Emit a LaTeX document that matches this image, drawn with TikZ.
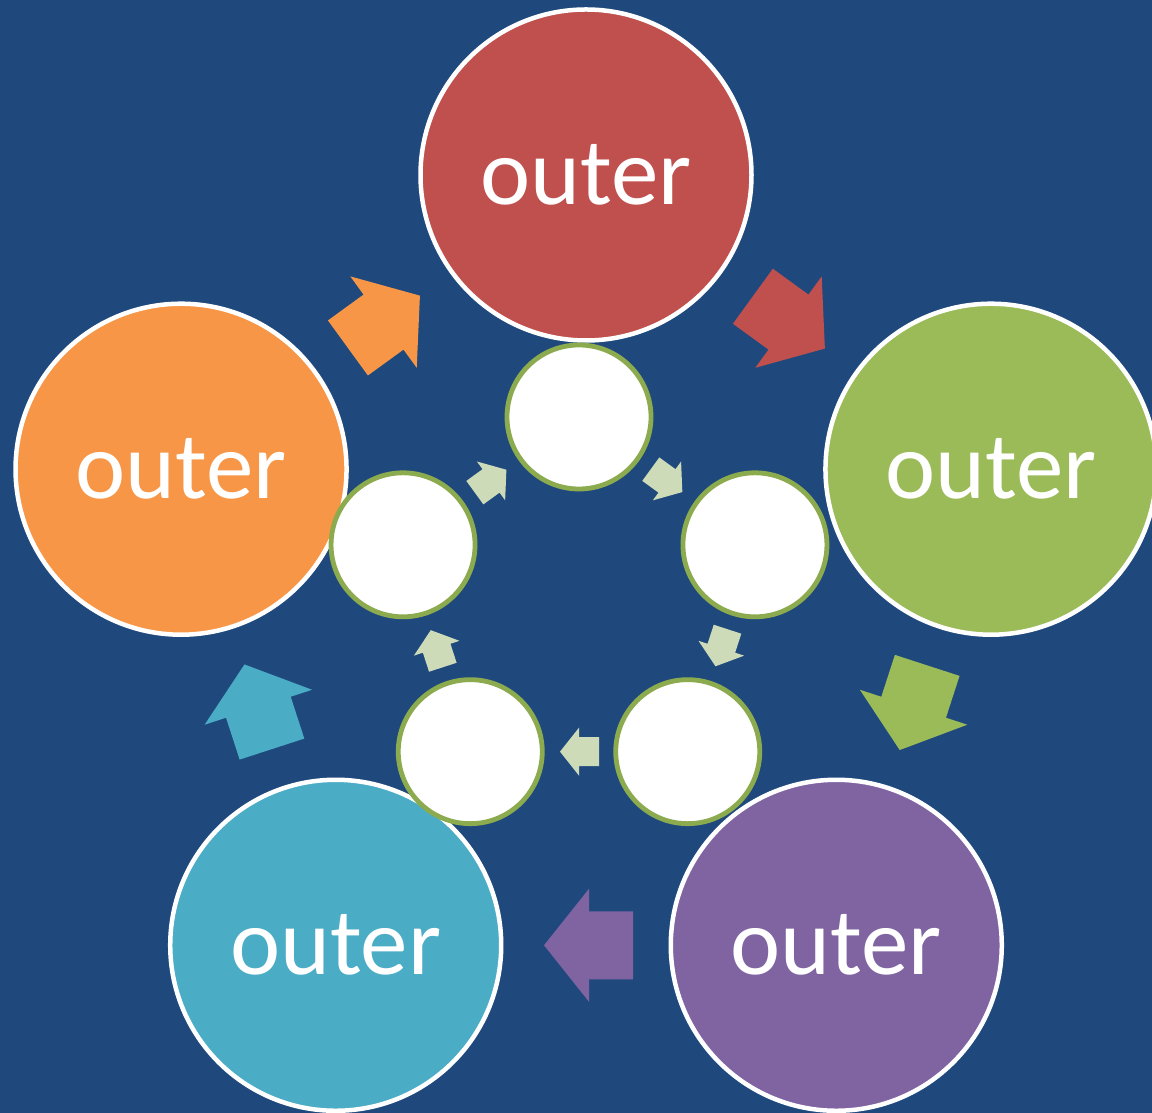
\documentclass[tikz,border=0pt]{standalone}
\usepackage{fontspec}
\setmainfont{Carlito}
\usetikzlibrary{calc}

\definecolor{bgblue}{HTML}{1F497D}
\definecolor{cred}{HTML}{C0504D}
\definecolor{cgreen}{HTML}{9BBB59}
\definecolor{cpurple}{HTML}{8064A2}
\definecolor{cteal}{HTML}{4BACC6}
\definecolor{corange}{HTML}{F79646}
\definecolor{ringgreen}{RGB}{140,170,78}
\definecolor{paleleaf}{RGB}{205,219,184}

\tikzset{
  outercirc/.style={circle, draw=white, line width=4.5pt, minimum size=331pt,
    inner sep=0pt, text=white, font=\fontsize{95}{104}\selectfont},
  innercirc/.style={circle, draw=ringgreen, fill=white, line width=4.8pt,
    minimum size=144pt, inner sep=0pt},
  bigarrow/.pic={
    \path[pic actions] (-44,-34) -- (0,-34) -- (0,-56.5) -- (45,0)
      -- (0,56.5) -- (0,34) -- (-44,34) -- cycle;
  },
  smallarrow/.pic={
    \path[pic actions] (-20,-14.5) -- (0,-14.5) -- (0,-24) -- (19,0)
      -- (0,24) -- (0,14.5) -- (-20,14.5) -- cycle;
  },
}

\begin{document}
\begin{tikzpicture}[x=1pt, y=1pt]
  \useasboundingbox (0,0) rectangle (1152,1113);
  \fill[bgblue] (0,0) rectangle (1152,1113);

  % centres of the two rings
  \coordinate (oc) at (586,512.2);
  \coordinate (ic) at (579,511);

  % outer ring of coloured circles
  \node[outercirc, fill=cred]    (o1) at ($(oc)+(90:425.8pt)$)   {outer};
  \node[outercirc, fill=cgreen]  (o2) at ($(oc)+(18:425.8pt)$)   {outer};
  \node[outercirc, fill=cpurple] (o3) at ($(oc)+(-54:425.8pt)$)  {outer};
  \node[outercirc, fill=cteal]   (o4) at ($(oc)+(-126:425.8pt)$) {outer};
  \node[outercirc, fill=corange] (o5) at ($(oc)+(162:425.8pt)$)  {outer};

  % block arrows between the outer circles
  \pic[fill=cred, rotate=-36]     at ($(o1)!0.5!(o2)$) {bigarrow};
  \pic[fill=cgreen, rotate=-108]  at ($(o2)!0.5!(o3)$) {bigarrow};
  \pic[fill=cpurple, rotate=180]  at ($(o3)!0.5!(o4)+(3,0)$) {bigarrow};
  \pic[fill=cteal, rotate=108]    at ($(o4)!0.5!(o5)$) {bigarrow};
  \pic[fill=corange, rotate=36]   at ($(o5)!0.5!(o1)$) {bigarrow};

  % inner ring of white circles
  \node[innercirc] (i1) at ($(ic)+(90:185pt)$)   {};
  \node[innercirc] (i2) at ($(ic)+(18:185pt)$)   {};
  \node[innercirc] (i3) at ($(ic)+(-54:185pt)$)  {};
  \node[innercirc] (i4) at ($(ic)+(-126:185pt)$) {};
  \node[innercirc] (i5) at ($(ic)+(162:185pt)$)  {};

  % small arrows between the inner circles
  \pic[fill=paleleaf, rotate=-36]  at ($(i1)!0.5!(i2)$) {smallarrow};
  \pic[fill=paleleaf, rotate=-108] at ($(i2)!0.5!(i3)$) {smallarrow};
  \pic[fill=paleleaf, rotate=180]  at ($(i3)!0.5!(i4)$) {smallarrow};
  \pic[fill=paleleaf, rotate=108]  at ($(i4)!0.5!(i5)$) {smallarrow};
  \pic[fill=paleleaf, rotate=36]   at ($(i5)!0.5!(i1)$) {smallarrow};
\end{tikzpicture}
\end{document}
